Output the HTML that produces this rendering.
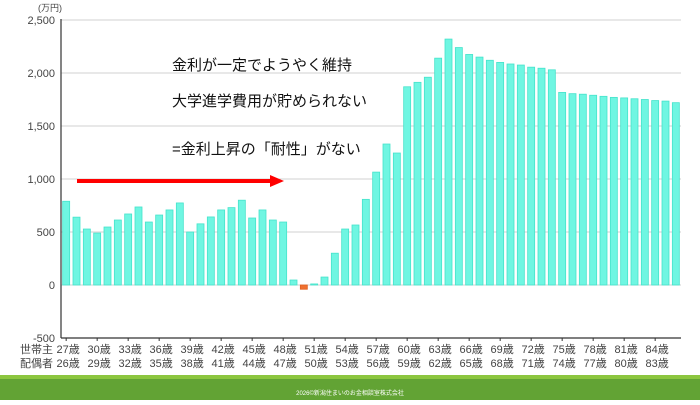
<!DOCTYPE html>
<html><head><meta charset="utf-8"><style>
body{margin:0;width:700px;height:400px;overflow:hidden;background:#fff;font-family:"Liberation Sans","Noto Sans CJK JP",sans-serif;}
svg text{font-family:"Liberation Sans","Noto Sans CJK JP",sans-serif;}
</style></head><body>
<svg id="c" width="700" height="400">
<rect x="0" y="375" width="700" height="25" fill="#62a334"/>
<rect x="0" y="375" width="700" height="4" fill="#8cc63f"/>
<text x="350" y="395" font-size="6" fill="#fff" text-anchor="middle">2026©新潟住まいのお金相談室株式会社</text>
<text x="38" y="11" font-size="9" fill="#444">(万円)</text>
<g font-size="15" fill="#111">
<text x="172" y="70">金利が一定でようやく維持</text>
<text x="172" y="106">大学進学費用が貯められない</text>
<text x="172" y="154">=金利上昇の「耐性」がない</text>
</g>
</svg>
<script>
const ages=[27,28,29,30,31,32,33,34,35,36,37,38,39,40,41,42,43,44,45,46,47,48,49,50,51,52,53,54,55,56,57,58,59,60,61,62,63,64,65,66,67,68,69,70,71,72,73,74,75,76,77,78,79,80,81,82,83,84,85,86];
const values=[790,640,528,490,547,613,670,736,594,660,708,774,500,577,642,708,730,800,632,708,613,594,47,-40,10,75,300,528,566,808,1065,1330,1245,1870,1912,1960,2140,2320,2240,2175,2150,2120,2100,2085,2075,2055,2045,2030,1817,1805,1800,1790,1780,1770,1765,1757,1750,1740,1735,1720];
const yTicks=[2500,2000,1500,1000,500,0,-500];
const yTickLabels=["2,500","2,000","1,500","1,000","500","0","-500"];
const svg=document.getElementById('c');
const NS='http://www.w3.org/2000/svg';
const X0=61,X1=681,Y0=285,PPU=0.106;
const step=(X1-X0)/ages.length;
const y=v=>Y0-v*PPU;
const xc=i=>X0+step*(i+0.5);
function mk(t,a){const e=document.createElementNS(NS,t);for(const k in a)e.setAttribute(k,a[k]);svg.appendChild(e);return e;}
yTicks.forEach((v,i)=>{
  if(v>-500){const g=mk('line',{x1:X0,x2:X1,y1:y(v),y2:y(v),stroke:'#d0d0d0','stroke-width':1});
  
  }
  const t=mk('text',{x:55,y:y(v)+4,'font-size':11,fill:'#444','text-anchor':'end'});
  t.textContent=yTickLabels[i];
  
  
});
values.forEach((v,i)=>{
  const w=7,top=Math.min(y(v),y(0)),h=Math.abs(y(v)-y(0));
  const neg=v<0;
  const r=mk('rect',{x:xc(i)-w/2,y:top,width:w,height:Math.max(h,1),fill:neg?'#f07030':'#6ff6e2',stroke:neg?'#e06020':'#45e3cb','stroke-width':0.8});
  
  
});
const ax=mk('line',{x1:X0,x2:X0,y1:19,y2:y(-500),stroke:'#333','stroke-width':1.2});


const bx=mk('line',{x1:X0,x2:X1,y1:y(-500),y2:y(-500),stroke:'#333','stroke-width':1.2});


const l1=mk('text',{x:20,y:353,'font-size':11,fill:'#444'});l1.textContent='世帯主';


const l2=mk('text',{x:20,y:367,'font-size':11,fill:'#444'});l2.textContent='配偶者';


ages.forEach((a,i)=>{
  if(i%3!==0)return;
  const tk=mk('line',{x1:xc(i),x2:xc(i),y1:y(-500),y2:y(-500)+3,stroke:'#333'});
  
  
  const t=mk('text',{x:xc(i)+2,y:353,'font-size':11,fill:'#444','text-anchor':'middle'});t.textContent=a+'歳';
  
  
  const t2=mk('text',{x:xc(i)+2,y:367,'font-size':11,fill:'#444','text-anchor':'middle'});t2.textContent=(a-1)+'歳';
  
  
});
const ar=mk('line',{x1:77,x2:272,y1:181,y2:181,stroke:'#f00','stroke-width':4});


const ah=mk('polygon',{points:'270,175 284,181 270,187',fill:'#f00'});


</script>
</body></html>
